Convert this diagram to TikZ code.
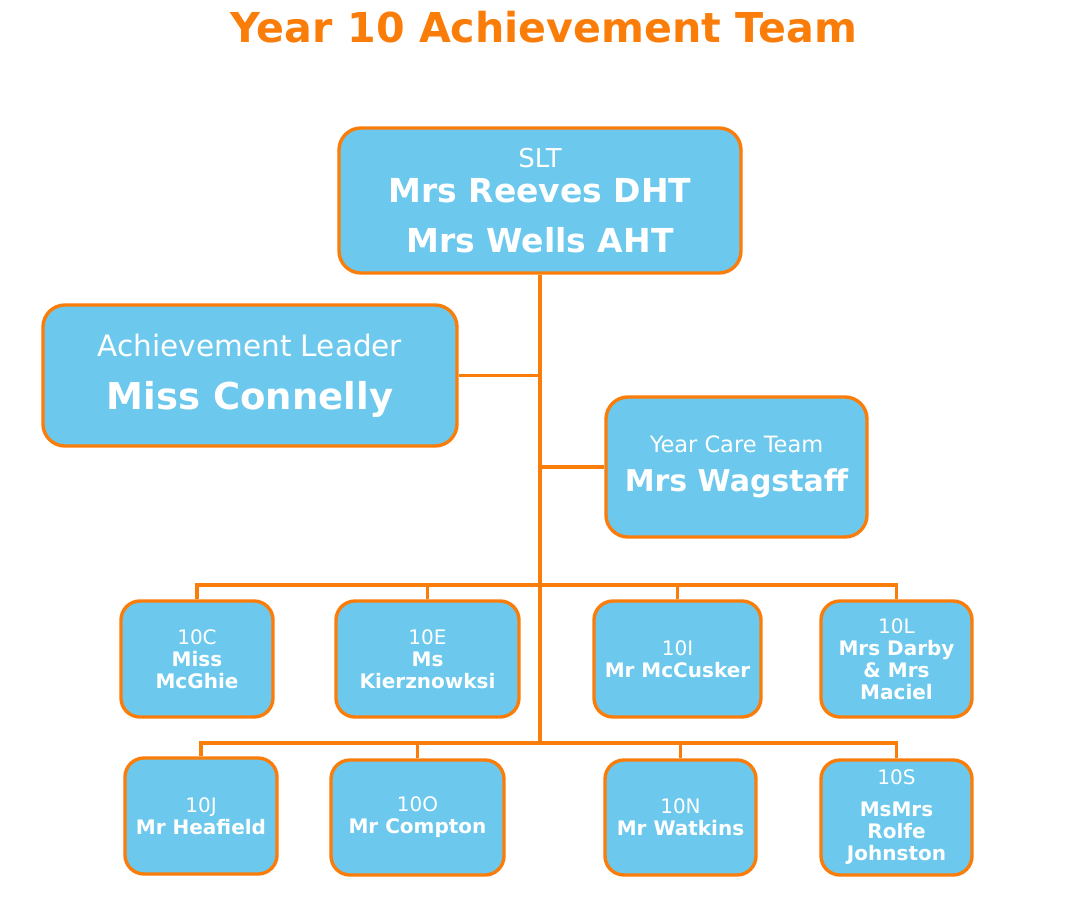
\documentclass[tikz,border=0pt]{standalone}
\usepackage{fontspec}
\setmainfont{DejaVu Sans}
\definecolor{boxfill}{RGB}{108,201,237}
\definecolor{orgline}{RGB}{250,125,10}
\begin{document}
\begin{tikzpicture}[x=1pt,y=-1pt,
  box/.style={draw=orgline, line width=3.4pt, fill=boxfill, rounded corners=22pt,
    text=white, align=center, inner sep=0pt},
  small/.style={box, rounded corners=19pt, font=\fontsize{20}{22}\selectfont},
  conn/.style={draw=orgline, line width=3.2pt}]
\useasboundingbox (0,0) rectangle (1068,907);
\node[text=orgline, font=\bfseries\fontsize{41.2}{48}\selectfont, anchor=base] (title) at (544,43) {Year 10 Achievement Team};

\node[box, minimum width=402pt, minimum height=145pt, font=\fontsize{33}{35}\selectfont] (slt) at (540,200.5)
  {{\fontsize{26}{30}\selectfont SLT}\\ \textbf{Mrs Reeves DHT}\\[15pt] \textbf{Mrs Wells AHT}};
\node[box, minimum width=414pt, minimum height=141pt, font=\fontsize{29.5}{53}\selectfont] (al) at (250,375.5)
  {Achievement Leader\\ {\fontsize{37}{40}\selectfont\bfseries Miss Connelly}};
\node[box, minimum width=261pt, minimum height=140pt, font=\fontsize{22.5}{39}\selectfont] (yc) at (736.5,467)
  {Year Care Team\\ {\fontsize{30}{32}\selectfont\bfseries Mrs Wagstaff}};

\node[small, minimum width=152pt, minimum height=116pt] (c10) at (197,659) {10C\\ \textbf{Miss}\\ \textbf{McGhie}};
\node[small, minimum width=183pt, minimum height=116pt] (e10) at (427.5,659) {10E\\ \textbf{Ms}\\ \textbf{Kierznowksi}};
\node[small, minimum width=167pt, minimum height=116pt] (i10) at (677.5,659) {10I\\ \textbf{Mr McCusker}};
\node[small, minimum width=151pt, minimum height=116pt] (l10) at (896.5,659) {10L\\ \textbf{Mrs Darby}\\ \textbf{\& Mrs}\\ \textbf{Maciel}};

\node[small, minimum width=152pt, minimum height=116pt] (j10) at (201,816) {10J\\ \textbf{Mr Heafield}};
\node[small, minimum width=173pt, minimum height=115pt] (o10) at (417.5,817.5) {10O\\ \textbf{Mr Compton}};
\node[small, minimum width=151pt, minimum height=115pt] (n10) at (680.5,817.5) {10N\\ \textbf{Mr Watkins}};
\node[small, minimum width=151pt, minimum height=115pt] (s10) at (896.5,817.5) {10S\\[10pt] \textbf{MsMrs}\\ \textbf{Rolfe}\\ \textbf{Johnston}};

\coordinate (bus1) at (540,585);
\coordinate (bus2) at (540,743);

\draw[conn] (slt.south) -- (bus2);
\draw[conn] (al.east) -- (al.east -| slt.south);
\draw[conn] (yc.west) -- (yc.west -| slt.south);
\draw[conn] (c10.north) |- (l10.north |- bus1) -- (l10.north);
\draw[conn] (e10.north) -- (e10.north |- bus1);
\draw[conn] (i10.north) -- (i10.north |- bus1);
\draw[conn] (j10.north) |- (s10.north |- bus2) -- (s10.north);
\draw[conn] (o10.north) -- (o10.north |- bus2);
\draw[conn] (n10.north) -- (n10.north |- bus2);
\end{tikzpicture}
\end{document}
